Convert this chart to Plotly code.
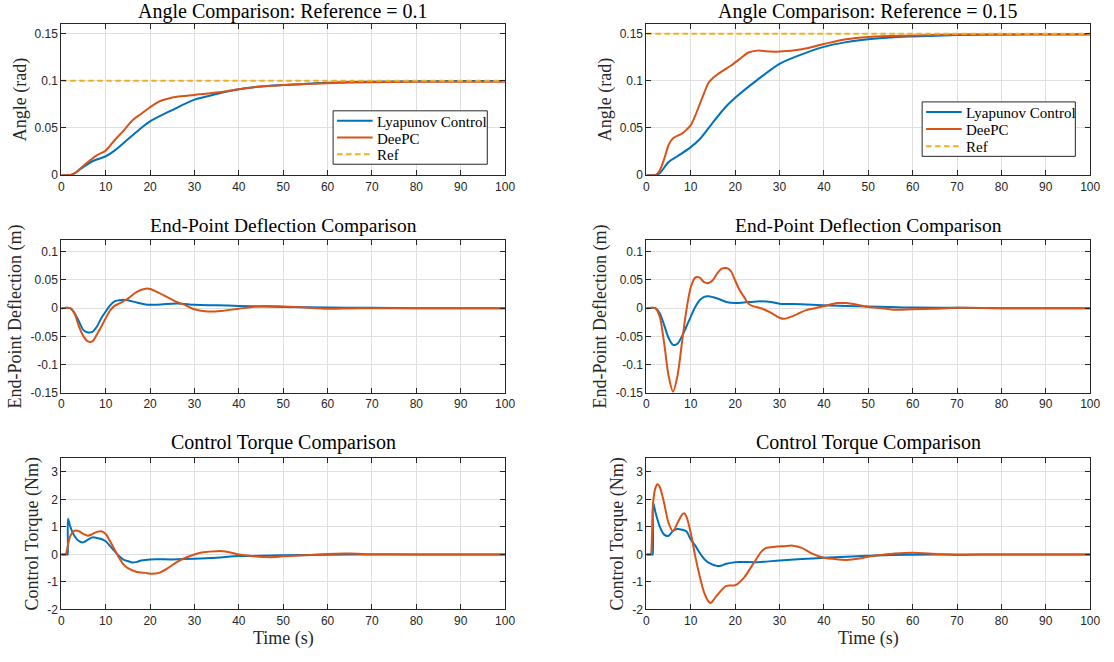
import plotly.graph_objects as go

# ---------------- data ----------------
ref_values = [0.1, 0.15]
t_ref = [0, 100]

# Angle, reference 0.1
t_a1_ly = [0, 2, 3, 5, 7, 10, 12, 15, 18, 20, 25, 30, 35, 40, 45, 50, 60, 70, 80, 90, 100]
a1_ly = [0, 0, 0.002, 0.0087, 0.0147, 0.020, 0.026, 0.038, 0.050, 0.057, 0.069, 0.080, 0.086, 0.091,
         0.094, 0.0955, 0.098, 0.099, 0.0995, 0.0997, 0.0998]
t_a1_dp = [0, 2, 3, 5, 6, 8, 10, 12, 14, 16, 18, 20, 22, 24, 26, 30, 35, 40, 45, 50, 60, 70, 80, 90, 100]
a1_dp = [0, 0, 0.002, 0.010, 0.014, 0.021, 0.026, 0.037, 0.047, 0.058, 0.065, 0.072, 0.078, 0.081,
         0.083, 0.085, 0.0875, 0.091, 0.094, 0.0955, 0.0975, 0.0985, 0.099, 0.099, 0.099]

# Angle, reference 0.15
t_a2_ly = [0, 2, 3, 5, 7, 10, 12, 15, 18, 20, 25, 30, 35, 40, 45, 50, 55, 60, 70, 80, 90, 100]
a2_ly = [0, 0, 0.002, 0.014, 0.020, 0.0297, 0.038, 0.056, 0.073, 0.082, 0.101, 0.118, 0.128, 0.136,
         0.141, 0.144, 0.146, 0.147, 0.1485, 0.149, 0.1495, 0.1495]
t_a2_dp = [0, 2, 3, 4, 5, 6, 8, 9, 10, 11, 12, 13, 14, 15, 17, 19, 21, 23, 25, 28, 30, 35, 40, 45,
           50, 55, 60, 70, 80, 90, 100]
a2_dp = [0, 0, 0.005, 0.017, 0.032, 0.039, 0.044, 0.048, 0.053, 0.063, 0.075, 0.087, 0.098, 0.103,
         0.110, 0.116, 0.123, 0.130, 0.132, 0.131, 0.131, 0.1335, 0.139, 0.144, 0.1465, 0.1475, 0.148,
         0.149, 0.149, 0.149, 0.149]

# End-point deflection, reference 0.1
t_d1_ly = [0, 2, 3, 4, 5, 6, 7, 8, 9, 10, 11, 12, 13, 14, 15, 17, 19, 21, 23, 25, 27, 30, 35, 40,
           45, 50, 60, 70, 80, 90, 100]
d1_ly = [0, 0, -0.009, -0.024, -0.039, -0.043, -0.042, -0.033, -0.018, -0.006, 0.005, 0.012, 0.014,
         0.015, 0.014, 0.010, 0.0064, 0.006, 0.007, 0.008, 0.008, 0.006, 0.005, 0.004, 0.003, 0.002,
         0.001, 0.0005, 0, 0, 0]
t_d1_dp = [0, 2, 3, 4, 5, 6, 7, 8, 9, 10, 11, 12, 13, 15, 17, 19, 20, 22, 24, 26, 28, 30, 33, 36,
           40, 43, 46, 50, 55, 60, 65, 70, 80, 90, 100]
d1_dp = [0, 0, -0.010, -0.033, -0.050, -0.059, -0.059, -0.047, -0.033, -0.018, -0.004, 0.004, 0.008,
         0.017, 0.029, 0.0345, 0.034, 0.027, 0.019, 0.011, 0.005, -0.002, -0.006, -0.005, -0.001,
         0.002, 0.004, 0.003, 0.001, -0.001, -0.0005, 0, 0, 0, 0]

# End-point deflection, reference 0.15
t_d2_ly = [0, 2, 3, 4, 5, 6, 7, 8, 9, 10, 11, 12, 13, 14, 16, 18, 20, 22, 25, 28, 30, 35, 40, 45,
           50, 55, 60, 70, 80, 90, 100]
d2_ly = [0, 0, -0.009, -0.030, -0.053, -0.065, -0.063, -0.050, -0.033, -0.015, 0.002, 0.014, 0.020,
         0.021, 0.017, 0.011, 0.009, 0.010, 0.012, 0.011, 0.008, 0.007, 0.005, 0.004, 0.003, 0.002,
         0.001, 0.0005, 0, 0, 0]
t_d2_dp = [0, 2, 3, 4, 5, 6, 7, 8, 9, 10, 11, 12, 13, 14, 15, 16, 17, 18, 19, 20, 21, 22, 23, 24,
           26, 28, 30, 31, 32, 34, 36, 38, 40, 43, 45, 47, 50, 53, 56, 60, 65, 70, 80, 90, 100]
d2_dp = [0, 0, -0.015, -0.062, -0.120, -0.148, -0.120, -0.062, -0.004, 0.037, 0.054, 0.054, 0.046,
         0.0445, 0.050, 0.062, 0.070, 0.071, 0.066, 0.049, 0.032, 0.020, 0.008, 0.0035, -0.0006,
         -0.008, -0.017, -0.019, -0.017, -0.0105, -0.0035, 0.0, 0.0035, 0.009, 0.009, 0.007, 0.002,
         0.0, -0.003, -0.002, -0.001, 0.0005, 0, 0, 0]

# Control torque, reference 0.1
t_u1_ly = [0, 1.4, 1.45, 1.5, 2, 3, 4, 5, 6, 7, 8, 9, 10, 11, 12, 13, 14, 15, 16, 17, 18, 20, 25,
           30, 35, 40, 45, 50, 60, 70, 80, 90, 100]
u1_ly = [0, 0, 0, 1.3, 1.02, 0.66, 0.48, 0.44, 0.54, 0.62, 0.60, 0.56, 0.48, 0.30, 0.12, -0.06,
         -0.19, -0.24, -0.29, -0.27, -0.22, -0.18, -0.18, -0.16, -0.12, -0.06, -0.05, -0.03, -0.01,
         0, 0, 0, 0]
t_u1_dp = [0, 0.9, 1.0, 2, 3, 4, 5, 6, 7, 8, 9, 10, 11, 12, 13, 14, 15, 17, 19, 20, 22, 24, 26,
           28, 30, 32, 35, 37, 40, 43, 47, 50, 55, 60, 65, 70, 80, 90, 100]
u1_dp = [0, 0, 0, 0.66, 0.86, 0.84, 0.74, 0.68, 0.74, 0.82, 0.84, 0.74, 0.48, 0.18, -0.12, -0.36,
         -0.50, -0.64, -0.67, -0.70, -0.67, -0.50, -0.28, -0.12, 0.0, 0.08, 0.12, 0.11, 0.0, -0.06,
         -0.10, -0.07, -0.03, 0.02, 0.03, 0.01, 0, 0, 0]

# Control torque, reference 0.15
t_u2_ly = [0, 1.4, 1.45, 1.5, 2, 3, 4, 5, 6, 7, 8, 9, 10, 11, 12, 13, 14, 16, 17, 18, 20, 25, 30,
           35, 40, 45, 50, 55, 60, 70, 80, 90, 100]
u2_ly = [0, 0, 0, 1.9, 1.56, 1.02, 0.72, 0.68, 0.86, 0.92, 0.90, 0.84, 0.54, 0.32, 0.06, -0.16,
         -0.30, -0.42, -0.40, -0.34, -0.28, -0.28, -0.22, -0.17, -0.12, -0.08, -0.05, -0.02, -0.01,
         0, 0, 0, 0]
t_u2_dp = [0, 0.9, 1.0, 1.5, 2, 2.5, 3, 4, 5, 6, 7, 8, 8.5, 9, 10, 11, 12, 13, 14, 14.5, 15, 16,
           18, 20, 22, 24, 26, 27, 29, 31, 33, 35, 37, 40, 42, 45, 48, 50, 53, 56, 60, 65, 70, 75,
           80, 90, 100]
u2_dp = [0, 0, 0, 1.86, 2.4, 2.55, 2.46, 1.86, 1.14, 0.84, 1.14, 1.44, 1.5, 1.38, 0.78, -0.06,
         -0.78, -1.38, -1.71, -1.76, -1.68, -1.47, -1.14, -1.12, -0.84, -0.36, 0.12, 0.24, 0.28,
         0.30, 0.32, 0.24, 0.06, -0.12, -0.16, -0.20, -0.15, -0.08, -0.02, 0.03, 0.06, 0.02, -0.02,
         0, 0, 0, 0]

x_ticks = [0, 10, 20, 30, 40, 50, 60, 70, 80, 90, 100]
ang_ticks = [0, 0.05, 0.1, 0.15]
ang_ticktext = ["0", "0.05", "0.1", "0.15"]
def_ticks = [-0.15, -0.1, -0.05, 0, 0.05, 0.1]
def_ticktext = ["-0.15", "-0.1", "-0.05", "0", "0.05", "0.1"]
tq_ticks = [-2, -1, 0, 1, 2, 3]
tq_ticktext = ["-2", "-1", "0", "1", "2", "3"]

titles = ["Angle Comparison: Reference = 0.1", "Angle Comparison: Reference = 0.15",
          "End-Point Deflection Comparison", "End-Point Deflection Comparison",
          "Control Torque Comparison", "Control Torque Comparison"]
ylabels = ["Angle (rad)", "End-Point Deflection (m)", "Control Torque (Nm)"]
xlabel = "Time (s)"
series_names = ["Lyapunov Control", "DeePC", "Ref"]

# ---------------- styling ----------------
W, H = 1114, 662
BLUE, ORANGE, YELLOW = "#0072BD", "#D95319", "#EDB120"
COLORS = [BLUE, ORANGE, YELLOW]
SERIF = "Liberation Serif, DejaVu Serif, serif"
SANS = "Liberation Sans, Arial, sans-serif"
AX = "#262626"
GRID = "#DFDFDF"
REF_DASH = "5.5px,3.5px"

col_px = [(59, 508), (651, 1100)]
row_px = [(24, 177), (243, 397), (463, 616)]
title_cy = [11.5, 228, 447]
title_size = [20, 19.5, 20]
ylabel_offset = [41, 46, 29]
xlabel_cy = 645
legend_box = [(334, 112, 490, 166), (930, 103, 1085, 158)]


def px_x(p):
    return p / W


def px_y(p):
    return 1 - p / H


fig = go.Figure()

panels = [
    (0, 0, [(t_a1_ly, a1_ly, 0), (t_a1_dp, a1_dp, 1)], ref_values[0]),
    (0, 1, [(t_a2_ly, a2_ly, 0), (t_a2_dp, a2_dp, 1)], ref_values[1]),
    (1, 0, [(t_d1_ly, d1_ly, 0), (t_d1_dp, d1_dp, 1)], None),
    (1, 1, [(t_d2_ly, d2_ly, 0), (t_d2_dp, d2_dp, 1)], None),
    (2, 0, [(t_u1_ly, u1_ly, 0), (t_u1_dp, u1_dp, 1)], None),
    (2, 1, [(t_u2_ly, u2_ly, 0), (t_u2_dp, u2_dp, 1)], None),
]

yranges = [[0, 0.1605], [-0.15, 0.12], [-2, 3.5]]
yticks = [(ang_ticks, ang_ticktext), (def_ticks, def_ticktext), (tq_ticks, tq_ticktext)]

for i, (r, c, lines, ref) in enumerate(panels):
    k = i + 1
    xa = "x" if k == 1 else f"x{k}"
    ya = "y" if k == 1 else f"y{k}"
    for (tt, vv, si) in lines:
        fig.add_trace(go.Scatter(
            x=tt, y=vv, mode="lines", name=series_names[si],
            line=dict(color=COLORS[si], width=2, shape="spline", smoothing=0.8),
            xaxis=xa, yaxis=ya, showlegend=False))
    if ref is not None:
        fig.add_trace(go.Scatter(
            x=t_ref, y=[ref, ref], mode="lines", name=series_names[2],
            line=dict(color=YELLOW, width=2, dash=REF_DASH),
            xaxis=xa, yaxis=ya, showlegend=False))
    xkey = "xaxis" if k == 1 else f"xaxis{k}"
    ykey = "yaxis" if k == 1 else f"yaxis{k}"
    common = dict(showline=True, linecolor=AX, linewidth=1, mirror="ticks",
                  ticks="inside", ticklen=5, tickcolor=AX, tickwidth=1,
                  showgrid=True, gridcolor=GRID, gridwidth=1, zeroline=False,
                  tickfont=dict(family=SANS, size=12, color=AX))
    fig.layout[xkey] = dict(domain=[px_x(col_px[c][0]), px_x(col_px[c][1])], anchor=ya,
                            range=[0, 100], tickvals=x_ticks,
                            ticktext=[str(v) for v in x_ticks], **common)
    fig.layout[ykey] = dict(domain=[px_y(row_px[r][1]), px_y(row_px[r][0])], anchor=xa,
                            range=yranges[r], tickvals=yticks[r][0], ticktext=yticks[r][1], **common)
    cxp = (col_px[c][0] + col_px[c][1]) / 2
    fig.add_annotation(text=titles[i], x=px_x(cxp), y=px_y(title_cy[r]),
                       xref="paper", yref="paper", xanchor="center", yanchor="middle",
                       showarrow=False, font=dict(family=SERIF, size=title_size[r], color="black"))
    cyp = (row_px[r][0] + row_px[r][1]) / 2
    fig.add_annotation(text=ylabels[r], x=px_x(col_px[c][0] - ylabel_offset[r]), y=px_y(cyp),
                       xref="paper", yref="paper", xanchor="center", yanchor="middle",
                       textangle=-90, showarrow=False,
                       font=dict(family=SERIF, size=18, color=AX))
    if r == 2:
        fig.add_annotation(text=xlabel, x=px_x(cxp), y=px_y(xlabel_cy),
                           xref="paper", yref="paper", xanchor="center", yanchor="middle",
                           showarrow=False, font=dict(family=SERIF, size=18, color=AX))

# legends (one per top panel): box, line samples and labels
for (x0, y0, x1, y1) in legend_box:
    fig.add_shape(type="rect", xref="paper", yref="paper",
                  x0=px_x(x0), x1=px_x(x1), y0=px_y(y1), y1=px_y(y0),
                  line=dict(color=AX, width=1), fillcolor="white", layer="above")
    step = (y1 - y0) / 3.2
    for j, nm in enumerate(series_names):
        yy = y0 + step * (0.6 + j)
        fig.add_shape(type="line", xref="paper", yref="paper",
                      x0=px_x(x0 + 4), x1=px_x(x0 + 40), y0=px_y(yy), y1=px_y(yy),
                      line=dict(color=COLORS[j], width=2, dash=(REF_DASH if j == 2 else "solid")),
                      layer="above")
        fig.add_annotation(text=nm, x=px_x(x0 + 42), y=px_y(yy + 1), xref="paper", yref="paper",
                           xanchor="left", yanchor="middle", showarrow=False,
                           font=dict(family=SERIF, size=15, color="black"))

fig.update_layout(
    width=W, height=H, margin=dict(l=0, r=0, t=0, b=0),
    paper_bgcolor="white", plot_bgcolor="white", showlegend=False,
)

fig.write_html("out.html", config={"displayModeBar": False},
               post_script="document.body.style.margin='0';document.body.style.overflow='hidden';")
